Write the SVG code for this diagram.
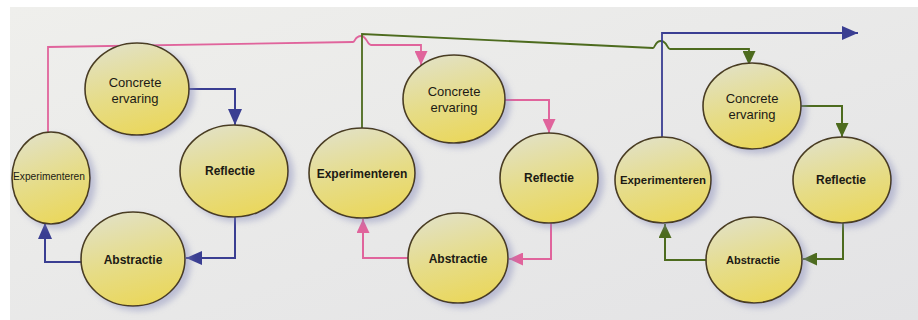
<svg xmlns="http://www.w3.org/2000/svg" width="918" height="320" viewBox="0 0 918 320">
<defs>
<style>
.node ellipse{fill:url(#g);stroke:#4a3d22;stroke-width:1.6;filter:url(#sh)}
.t{font-family:"Liberation Sans",Arial,sans-serif;fill:#1c1a14;text-anchor:middle}
.r{font-size:13px}
.b{font-size:12px;font-weight:bold}
.c path{fill:none;stroke-width:2}
.c path.top{stroke-width:1.8}
.blue{stroke:#3a3e92}
.pink{stroke:#e0649c}
.green{stroke:#4d6b1e}
</style>
<linearGradient id="g" x1="0.3" y1="0" x2="0.6" y2="1">
<stop offset="0" stop-color="#e2e1c4"/>
<stop offset="0.55" stop-color="#e6dc86"/>
<stop offset="1" stop-color="#ead75c"/>
</linearGradient>
<linearGradient id="bg" x1="0" y1="0" x2="1" y2="1">
<stop offset="0" stop-color="#efefec"/>
<stop offset="1" stop-color="#e3e3e5"/>
</linearGradient>
<filter id="sh" x="-20%" y="-20%" width="150%" height="150%">
<feDropShadow dx="5" dy="4" stdDeviation="3" flood-color="#8388b8" flood-opacity="0.45"/>
</filter>
<marker id="mb" markerUnits="userSpaceOnUse" markerWidth="17" markerHeight="14" refX="16" refY="7" orient="auto"><path d="M0,0 L16,7 L0,14 Z" fill="#3a3e92"/></marker>
<marker id="mp" markerUnits="userSpaceOnUse" markerWidth="15" markerHeight="13" refX="14" refY="6.5" orient="auto"><path d="M0,0 L14,6.5 L0,13 Z" fill="#e0649c"/></marker>
<marker id="mg" markerUnits="userSpaceOnUse" markerWidth="15" markerHeight="13" refX="14" refY="6.5" orient="auto"><path d="M0,0 L14,6.5 L0,13 Z" fill="#4d6b1e"/></marker>
</defs>
<rect width="918" height="320" fill="#ffffff"/>
<rect x="10" y="7" width="908" height="313" fill="url(#bg)"/>

<g id="connectors" class="c">
<path class="pink top" d="M48,132 V47 L353,42 C355,42 355,36 361,36 C367,36 367,45 371,45 L421,45 V65" marker-end="url(#mp)"/>
<path class="green top" d="M362,128 V34 L653,48 C655,48 655,41 661,41 C667,41 667,49 670,49 L749,49 V65" marker-end="url(#mg)"/>
<path class="blue top" d="M662,137 V33 H858" marker-end="url(#mb)"/>
<path class="blue" d="M188,89 H235 V125" marker-end="url(#mb)"/>
<path class="blue" d="M235,217 V258 H186" marker-end="url(#mb)"/>
<path class="blue" d="M82,262 H45 V223" marker-end="url(#mb)"/>
<path class="pink" d="M505,100 H549 V133" marker-end="url(#mp)"/>
<path class="pink" d="M551,223 V259 H509" marker-end="url(#mp)"/>
<path class="pink" d="M408,258 H363 V219" marker-end="url(#mp)"/>
<path class="green" d="M800,106 H842 V137" marker-end="url(#mg)"/>
<path class="green" d="M843,223 V259 H803" marker-end="url(#mg)"/>
<path class="green" d="M706,260 H665 V224" marker-end="url(#mg)"/>
</g>

<g id="ce1" class="node"><ellipse cx="137" cy="89" rx="52" ry="46"/><text class="t r" x="135" y="87">Concrete</text><text class="t r" x="135" y="103">ervaring</text></g>
<g id="refl1" class="node"><ellipse cx="234" cy="171" rx="54" ry="46"/><text class="t b" x="230" y="175">Reflectie</text></g>
<g id="exp1" class="node"><ellipse cx="51" cy="178" rx="39" ry="46"/><text class="t" style="font-size:10.2px" x="49" y="180">Experimenteren</text></g>
<g id="abs1" class="node"><ellipse cx="133" cy="259" rx="52" ry="47"/><text class="t b" x="133" y="264">Abstractie</text></g>

<g id="ce2" class="node"><ellipse cx="454" cy="99" rx="51" ry="44"/><text class="t r" x="454" y="96">Concrete</text><text class="t r" x="454" y="112">ervaring</text></g>
<g id="refl2" class="node"><ellipse cx="549" cy="178" rx="49" ry="45"/><text class="t b" x="549" y="182">Reflectie</text></g>
<g id="exp2" class="node"><ellipse cx="362" cy="173" rx="53" ry="45"/><text class="t b" x="362" y="178">Experimenteren</text></g>
<g id="abs2" class="node"><ellipse cx="458" cy="258" rx="50" ry="45"/><text class="t b" x="458" y="263">Abstractie</text></g>

<g id="ce3" class="node"><ellipse cx="752" cy="106" rx="49" ry="43"/><text class="t r" x="752" y="103">Concrete</text><text class="t r" x="752" y="119">ervaring</text></g>
<g id="refl3" class="node"><ellipse cx="842" cy="180" rx="49" ry="43"/><text class="t b" x="841" y="184">Reflectie</text></g>
<g id="exp3" class="node"><ellipse cx="663" cy="180" rx="48" ry="43"/><text class="t b" style="font-size:11.4px" x="663" y="184">Experimenteren</text></g>
<g id="abs3" class="node"><ellipse cx="754" cy="260" rx="48" ry="43"/><text class="t b" style="font-size:11px" x="753" y="264">Abstractie</text></g>
</svg>
